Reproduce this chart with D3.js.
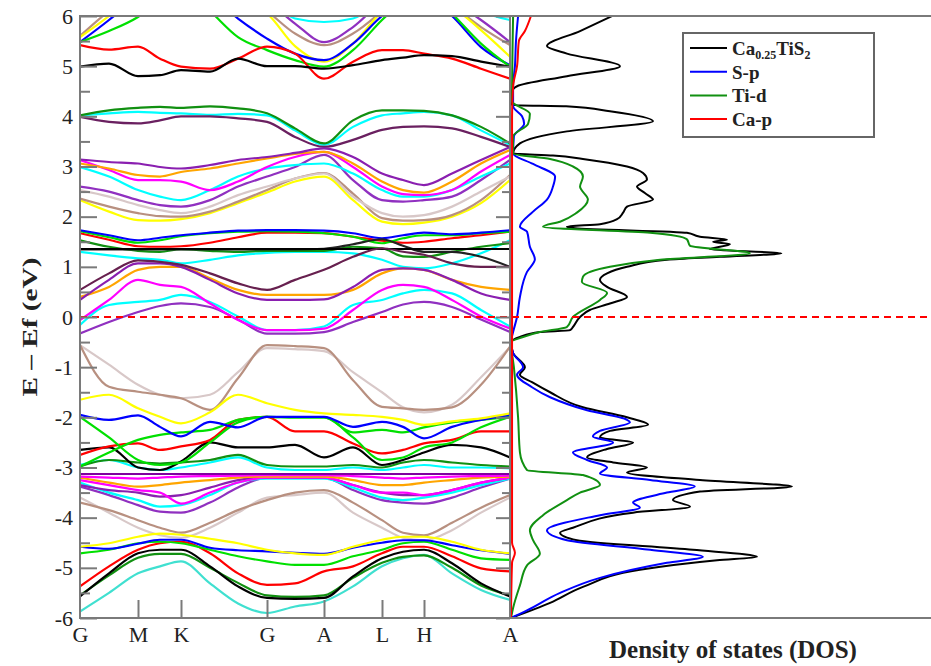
<!DOCTYPE html>
<html>
<head>
<meta charset="utf-8">
<script src="https://d3js.org/d3.v7.min.js"></script>
<style>
  body { margin: 0; background: #fff; }
  svg text { font-family: "Liberation Serif", "DejaVu Serif", serif !important; fill: #222; }
</style>
</head>
<body>
<script>
// k path (path units), high symmetry points
var kPath = [0, 0.29, 0.58, 0.80, 1.01, 1.30, 1.58, 1.87, 2.15, 2.44, 2.73, 3.02, 3.23, 3.44, 3.72, 4.01, 4.30];
var symPos = [0, 0.58, 1.01, 1.87, 2.44, 3.02, 3.44, 4.30];
var symLabels = ["G", "M", "K", "G", "A", "L", "H", "A"];
var yTicks = [6, 5, 4, 3, 2, 1, 0, -1, -2, -3, -4, -5, -6];
var yMinor = [5.5, 4.5, 3.5, 2.5, 1.5, 0.5, -0.5, -1.5, -2.5, -3.5, -4.5, -5.5];

// band energies (eV) at kPath points, with their colours
var bandColors = [
  // upper conduction
  "#b89080", "#00ffff", "#9030c0", "#ffff00", "#0000ff", "#00e000", "#ff0000", "#000000",
  // ~4 eV
  "#00ffff", "#6a2060", "#119011",
  // 2-3.4 eV
  "#ffff00", "#b89080", "#d8c8c8", "#9030c0", "#00ffff", "#ff00ff", "#ffa500", "#8a1fb0",
  // 1.2-1.8 eV
  "#00ffff", "#119011", "#ff0000", "#00e000", "#0000ff", "#222222", "#000000",
  // 0-1.4 eV
  "#9030c0", "#00ffff", "#ff00ff", "#ffa500", "#8a1fb0", "#67204f",
  // valence -0.5 .. -3
  "#d8c8c8", "#b89080", "#00ffff", "#119011", "#000000", "#ff0000", "#00e000", "#00e000", "#0000ff", "#ffff00",
  // -3.1 .. -4.5
  "#d8c8c8", "#b89080", "#9030c0", "#00ffff", "#8a1fb0", "#ff00ff", "#ffa500", "#ff00ff", "#8000a0",
  // -4.3 .. -6
  "#40e0d0", "#119011", "#000000", "#ff0000", "#00e000", "#0000ff", "#ffff00"
];
var bandValues = [
  [5.6, 6.1, 6.5, 6.8, 6.8, 6.8, 6.5, 6.1, 5.65, 5.42, 5.65, 6.1, 6.5, 6.5, 6.2, 5.78, 5.42],
  [6.5, 6.8, 6.8, 6.8, 6.8, 6.8, 6.8, 6.4, 5.95, 5.88, 5.95, 6.4, 6.8, 6.8, 6.5, 6.1, 5.92],
  [6.3, 6.6, 6.8, 6.8, 6.8, 6.8, 6.6, 6.3, 5.85, 5.48, 5.78, 6.3, 6.6, 6.6, 6.3, 5.92, 5.48],
  [5.58, 6.0, 6.5, 6.8, 6.8, 6.6, 6.3, 6.05, 5.4, 5.09, 5.45, 6.1, 6.5, 6.6, 6.2, 5.72, 5.19],
  [5.48, 5.92, 6.4, 6.8, 6.8, 6.4, 5.95, 5.55, 5.25, 5.12, 5.45, 6.0, 6.3, 6.4, 6.0, 5.38, 5.02],
  [5.48, 5.7, 5.98, 6.3, 6.6, 6.1, 5.58, 5.32, 5.12, 4.99, 5.32, 5.92, 6.3, 6.6, 6.05, 5.45, 4.99],
  [5.42, 5.33, 5.39, 5.15, 4.99, 4.95, 5.15, 5.39, 5.25, 4.75, 5.09, 5.32, 5.32, 5.25, 5.15, 4.95, 4.75],
  [4.99, 5.05, 4.8, 4.82, 4.92, 4.89, 5.15, 5.0, 5.0, 4.95, 5.02, 5.12, 5.17, 5.22, 5.2, 5.09, 4.99],

  [4.02, 4.06, 4.09, 4.07, 4.06, 4.03, 4.05, 4.02, 3.72, 3.43, 3.79, 4.02, 4.06, 4.09, 4.02, 3.72, 3.43],
  [3.99, 3.89, 3.86, 3.92, 4.0, 4.0, 3.96, 3.89, 3.59, 3.39, 3.53, 3.73, 3.79, 3.8, 3.76, 3.59, 3.39],
  [4.02, 4.12, 4.17, 4.19, 4.17, 4.2, 4.16, 4.06, 3.76, 3.46, 3.92, 4.12, 4.12, 4.11, 4.02, 3.79, 3.46],

  [2.33, 2.1, 1.93, 1.92, 1.95, 2.07, 2.27, 2.48, 2.7, 2.8, 2.33, 1.9, 1.85, 1.88, 2.0, 2.27, 2.73],
  [2.36, 2.2, 2.07, 2.01, 2.0, 2.1, 2.3, 2.53, 2.76, 2.87, 2.46, 1.97, 1.92, 1.93, 2.03, 2.33, 2.83],
  [2.53, 2.4, 2.23, 2.13, 2.07, 2.2, 2.43, 2.6, 2.76, 2.86, 2.4, 2.07, 2.0, 2.03, 2.2, 2.5, 2.8],
  [2.6, 2.5, 2.33, 2.23, 2.2, 2.33, 2.6, 2.8, 2.99, 3.23, 2.73, 2.33, 2.3, 2.33, 2.4, 2.73, 3.13],
  [2.99, 2.8, 2.53, 2.4, 2.33, 2.53, 2.8, 2.96, 3.03, 3.06, 2.86, 2.53, 2.4, 2.4, 2.53, 2.8, 3.06],
  [3.13, 2.93, 2.73, 2.73, 2.7, 2.53, 2.7, 2.99, 3.19, 3.29, 2.99, 2.6, 2.45, 2.43, 2.53, 2.9, 3.23],
  [3.06, 2.96, 2.83, 2.8, 2.89, 2.96, 3.06, 3.16, 3.25, 3.29, 3.06, 2.7, 2.53, 2.48, 2.7, 3.06, 3.33],
  [3.14, 3.09, 3.06, 2.99, 2.96, 3.03, 3.13, 3.19, 3.27, 3.36, 3.19, 2.86, 2.73, 2.63, 2.86, 3.13, 3.39],

  [1.3, 1.23, 1.17, 1.14, 1.07, 1.14, 1.23, 1.28, 1.3, 1.3, 1.27, 1.14, 1.0, 0.97, 1.07, 1.27, 1.53],
  [1.53, 1.4, 1.32, 1.3, 1.35, 1.32, 1.3, 1.32, 1.32, 1.32, 1.4, 1.37, 1.21, 1.2, 1.3, 1.4, 1.47],
  [1.67, 1.54, 1.41, 1.4, 1.41, 1.48, 1.59, 1.68, 1.68, 1.67, 1.6, 1.52, 1.48, 1.5, 1.57, 1.63, 1.7],
  [1.71, 1.59, 1.48, 1.53, 1.61, 1.67, 1.7, 1.71, 1.7, 1.67, 1.6, 1.47, 1.57, 1.63, 1.63, 1.67, 1.7],
  [1.73, 1.63, 1.53, 1.58, 1.63, 1.68, 1.72, 1.73, 1.73, 1.72, 1.67, 1.57, 1.63, 1.68, 1.65, 1.68, 1.73],
  [1.35, 1.35, 1.35, 1.35, 1.35, 1.35, 1.35, 1.35, 1.35, 1.36, 1.45, 1.55, 1.42, 1.3, 1.3, 1.2, 1.0],
  [1.355, 1.355, 1.355, 1.355, 1.355, 1.355, 1.355, 1.355, 1.355, 1.355, 1.355, 1.355, 1.355, 1.355, 1.355, 1.355, 1.355],

  [-0.33, -0.1, 0.1, 0.22, 0.27, 0.2, -0.05, -0.33, -0.33, -0.3, -0.1, 0.1, 0.25, 0.3, 0.2, -0.05, -0.3],
  [-0.16, 0.24, 0.3, 0.34, 0.44, 0.3, 0.01, -0.26, -0.26, -0.19, 0.24, 0.34, 0.47, 0.54, 0.47, 0.14, -0.19],
  [-0.06, 0.34, 0.74, 0.64, 0.6, 0.27, -0.06, -0.26, -0.26, -0.23, 0.14, 0.54, 0.64, 0.6, 0.34, 0.01, -0.23],
  [0.4, 0.6, 0.94, 1.0, 1.0, 0.77, 0.54, 0.44, 0.44, 0.44, 0.54, 0.87, 0.97, 0.94, 0.74, 0.6, 0.54],
  [0.34, 0.74, 1.07, 1.07, 1.0, 0.74, 0.47, 0.34, 0.34, 0.35, 0.6, 0.94, 0.97, 0.94, 0.74, 0.47, 0.34],
  [0.54, 0.87, 1.13, 1.1, 1.04, 0.87, 0.67, 0.54, 0.74, 0.94, 1.2, 1.37, 1.3, 1.24, 1.07, 1.0, 1.0],

  [-0.56, -0.95, -1.35, -1.55, -1.62, -1.55, -1.1, -0.62, -0.64, -0.68, -1.1, -1.5, -1.8, -1.9, -1.75, -1.2, -0.6],
  [-0.56, -1.39, -1.49, -1.55, -1.62, -1.85, -1.22, -0.56, -0.58, -0.62, -1.26, -1.79, -1.82, -1.85, -1.8, -1.35, -0.59],
  [-2.95, -2.85, -3.0, -3.05, -3.0, -2.9, -2.8, -3.0, -3.05, -3.05, -3.0, -3.05, -3.0, -2.95, -3.0, -3.0, -3.02],
  [-2.98, -2.85, -2.9, -2.92, -2.9, -2.85, -2.75, -2.95, -2.98, -2.98, -2.95, -3.0, -2.9, -2.85, -2.9, -2.95, -2.98],
  [-2.65, -2.6, -3.0, -3.05, -2.88, -2.5, -2.6, -2.6, -2.55, -2.8, -2.6, -2.95, -2.85, -2.7, -2.55, -2.6, -2.8],
  [-2.75, -2.58, -2.52, -2.65, -2.58, -2.45, -2.05, -1.99, -2.28, -2.28, -2.52, -2.72, -2.65, -2.52, -2.45, -2.28, -2.28],
  [-2.98, -2.7, -2.45, -2.35, -2.3, -2.25, -2.05, -1.99, -2.0, -2.0, -2.3, -2.25, -2.3, -2.2, -2.1, -2.05, -1.99],
  [-1.99, -2.4, -2.85, -2.95, -2.9, -2.5, -2.1, -1.99, -2.0, -2.0, -2.4, -2.85, -2.8, -2.6, -2.5, -2.2, -1.99],
  [-1.95, -2.05, -1.96, -2.19, -2.38, -2.09, -2.2, -1.99, -1.99, -1.99, -2.19, -2.09, -2.19, -2.42, -2.19, -2.05, -1.95],
  [-1.65, -1.55, -1.82, -1.99, -2.12, -1.9, -1.55, -1.72, -1.85, -1.92, -1.95, -1.99, -2.05, -2.15, -2.08, -2.02, -1.92],

  [-3.6, -3.9, -4.2, -4.35, -4.4, -4.2, -3.9, -3.6, -3.55, -3.5, -3.9, -4.2, -4.4, -4.45, -4.25, -3.9, -3.6],
  [-3.7, -3.85, -4.05, -4.2, -4.3, -4.1, -3.85, -3.65, -3.5, -3.45, -3.7, -4.05, -4.3, -4.35, -4.1, -3.8, -3.55],
  [-3.38, -3.55, -3.75, -3.88, -3.9, -3.7, -3.4, -3.2, -3.2, -3.2, -3.45, -3.65, -3.7, -3.72, -3.6, -3.4, -3.22],
  [-3.3, -3.5, -3.65, -3.78, -3.75, -3.55, -3.3, -3.22, -3.22, -3.22, -3.4, -3.6, -3.65, -3.6, -3.5, -3.35, -3.22],
  [-3.35, -3.45, -3.5, -3.58, -3.55, -3.4, -3.25, -3.2, -3.2, -3.2, -3.35, -3.5, -3.55, -3.55, -3.45, -3.3, -3.2],
  [-3.25, -3.35, -3.45, -3.5, -3.72, -3.5, -3.3, -3.2, -3.2, -3.2, -3.35, -3.5, -3.5, -3.55, -3.45, -3.3, -3.2],
  [-3.2, -3.3, -3.38, -3.35, -3.3, -3.25, -3.2, -3.18, -3.18, -3.18, -3.25, -3.35, -3.35, -3.3, -3.25, -3.2, -3.18],
  [-3.18, -3.2, -3.22, -3.2, -3.18, -3.17, -3.16, -3.15, -3.15, -3.15, -3.17, -3.2, -3.22, -3.2, -3.18, -3.17, -3.16],
  [-3.13, -3.13, -3.13, -3.13, -3.13, -3.13, -3.13, -3.13, -3.13, -3.13, -3.13, -3.13, -3.13, -3.13, -3.13, -3.13, -3.13],

  [-5.87, -5.5, -5.11, -4.97, -4.87, -5.31, -5.71, -5.9, -5.77, -5.67, -5.37, -4.97, -4.81, -4.74, -5.11, -5.44, -5.64],
  [-5.55, -5.15, -4.8, -4.72, -4.72, -5.0, -5.3, -5.55, -5.58, -5.55, -5.2, -4.9, -4.78, -4.75, -5.0, -5.35, -5.55],
  [-5.57, -5.11, -4.71, -4.64, -4.64, -4.97, -5.37, -5.6, -5.62, -5.6, -5.17, -4.81, -4.68, -4.64, -4.91, -5.31, -5.57],
  [-5.37, -4.97, -4.64, -4.51, -4.48, -4.71, -5.11, -5.34, -5.31, -5.07, -4.97, -4.71, -4.58, -4.58, -4.77, -5.01, -5.07],
  [-4.71, -4.64, -4.51, -4.48, -4.51, -4.64, -4.77, -4.87, -4.94, -4.94, -4.77, -4.64, -4.51, -4.48, -4.64, -4.81, -4.84],
  [-4.58, -4.62, -4.52, -4.44, -4.44, -4.6, -4.65, -4.67, -4.7, -4.72, -4.6, -4.5, -4.45, -4.45, -4.55, -4.65, -4.72],
  [-4.58, -4.51, -4.38, -4.32, -4.34, -4.42, -4.51, -4.64, -4.71, -4.74, -4.58, -4.44, -4.38, -4.38, -4.48, -4.64, -4.71]
];

// density of states: [energy (eV), states]
var dosTotal = [[6.0,3.85],[5.7,2.63],[5.4,1.37],[5.25,2.13],[5.0,4.15],[4.8,2.13],[4.6,0.23],[4.5,0.04],[4.22,0.04],
  [4.2,2.1],[4.1,3.77],[3.9,5.41],[3.7,2.13],[3.46,0.34],[3.26,0.08],[3.22,1.6],[3.15,2.74],[3.0,4.42],[2.87,5.03],
  [2.74,5.18],[2.6,4.8],[2.47,5.1],[2.34,5.41],[2.2,4.42],[2.08,4.27],[1.95,4.04],[1.85,3.39],[1.8,2.13],[1.77,2.44],
  [1.68,6.7],[1.6,7.2],[1.54,8.23],[1.5,7.7],[1.45,8.34],[1.35,7.58],[1.27,10.3],[1.2,7.96],[1.14,5.94],[1.0,4.42],
  [0.87,3.66],[0.74,3.39],[0.6,3.66],[0.4,4.42],[0.27,3.77],[0.14,3.0],[0.0,2.63],[-0.2,2.36],[-0.26,2.25],[-0.3,1.1],
  [-0.4,0.34],[-0.5,0.0],[-0.72,0.08],[-1.0,0.53],[-1.15,0.34],[-1.3,0.8],[-1.5,1.49],[-1.8,2.74],[-2.0,4.42],
  [-2.15,5.22],[-2.27,3.77],[-2.4,3.39],[-2.5,4.65],[-2.63,3.66],[-2.8,2.9],[-2.9,3.89],[-3.0,5.18],[-3.1,4.42],
  [-3.25,7.2],[-3.38,10.7],[-3.48,7.2],[-3.65,6.17],[-3.78,6.82],[-3.9,4.65],[-4.2,2.36],[-4.3,1.87],[-4.45,2.51],
  [-4.64,6.93],[-4.78,9.37],[-4.85,7.85],[-5.04,4.91],[-5.38,2.74],[-5.7,1.49],[-6.0,0.0]];
var dosSp = [[6.0,0.27],[5.5,0.19],[5.0,0.15],[4.6,0.08],[4.2,0.08],[4.0,0.42],[3.85,0.5],[3.6,0.11],[3.26,0.08],
  [3.05,0.84],[2.8,1.68],[2.6,1.6],[2.34,1.37],[2.1,0.84],[1.8,0.34],[1.7,0.61],[1.4,0.72],[1.15,0.91],[0.9,0.61],
  [0.4,0.34],[0.0,0.23],[-0.3,0.08],[-0.5,0.0],[-0.72,0.08],[-1.0,0.46],[-1.15,0.23],[-1.4,0.8],[-1.6,1.49],
  [-1.86,2.9],[-2.05,4.42],[-2.1,4.53],[-2.27,3.39],[-2.38,3.12],[-2.5,3.89],[-2.7,2.36],[-2.85,2.9],[-3.0,3.66],
  [-3.12,3.39],[-3.25,5.3],[-3.38,7.0],[-3.5,5.94],[-3.7,4.65],[-3.8,4.91],[-3.95,3.39],[-4.25,1.37],[-4.45,2.13],
  [-4.64,5.3],[-4.78,7.31],[-4.9,5.94],[-5.2,3.39],[-5.5,1.87],[-5.85,0.61],[-6.0,0.0]];
var dosTid = [[6.0,0.08],[4.3,0.04],[4.05,0.72],[3.85,0.65],[3.6,0.08],[3.26,0.08],[3.15,1.49],[3.0,2.36],[2.8,2.74],
  [2.6,2.63],[2.34,2.93],[2.08,2.51],[1.9,1.87],[1.8,1.22],[1.68,5.3],[1.55,6.7],[1.42,6.82],[1.27,9.1],[1.14,5.68],
  [1.0,3.77],[0.8,2.74],[0.7,2.7],[0.48,3.66],[0.34,3.39],[0.0,2.36],[-0.2,2.13],[-0.3,1.1],[-0.4,0.46],[-0.5,0.0],
  [-1.0,0.11],[-2.0,0.27],[-2.7,0.34],[-3.05,0.61],[-3.15,2.74],[-3.35,3.39],[-3.5,2.63],[-3.65,2.13],[-3.95,1.22],
  [-4.25,0.72],[-4.45,0.84],[-4.72,1.1],[-4.95,0.61],[-5.35,0.34],[-5.8,0.08],[-6.0,0.0]];
var dosCap = [[6.0,0.76],[5.7,0.53],[5.5,0.3],[5.0,0.23],[4.6,0.08],[4.0,0.04],[-4.5,0.04],[-4.7,0.15],[-4.9,0.04],[-6.0,0.0]];

var legendNames = ["Ca0.25TiS2", "S-p", "Ti-d", "Ca-p"];
var legendColors = ["#000000", "#0000ff", "#119011", "#ff0000"];

var width = 931, height = 666;
var svg = d3.select("body").append("svg")
    .attr("width", width)
    .attr("height", height);

var x = d3.scaleLinear().domain([0, 4.30]).range([80, 510]);
var y = d3.scaleLinear().domain([-6, 6]).range([618, 16]);
var xd = d3.scaleLinear().domain([0, 16]).range([511, 931]);

var defs = svg.append("defs");
defs.append("clipPath").attr("id", "bandClip")
  .append("rect").attr("x", 80).attr("y", 16).attr("width", 430).attr("height", 602);
defs.append("clipPath").attr("id", "dosClip")
  .append("rect").attr("x", 510).attr("y", 14).attr("width", 421).attr("height", 605);

// bands
var bandLine = d3.line()
    .x(function(d, i) { return x(kPath[i]); })
    .y(function(d) { return y(d); })
    .curve(d3.curveMonotoneX);

svg.append("g").attr("clip-path", "url(#bandClip)")
  .selectAll("path")
  .data(bandValues)
  .enter().append("path")
    .attr("d", bandLine)
    .attr("fill", "none")
    .attr("stroke", function(d, i) { return bandColors[i]; })
    .attr("stroke-width", 2.2);

// DOS curves
var dosLine = d3.line()
    .x(function(d) { return xd(d[1]); })
    .y(function(d) { return y(d[0]); })
    .curve(d3.curveMonotoneY);

var dosG = svg.append("g").attr("clip-path", "url(#dosClip)");
[[dosTotal, "#000000"], [dosSp, "#0000ff"], [dosTid, "#119011"], [dosCap, "#ff0000"]].forEach(function(c) {
  dosG.append("path")
    .attr("d", dosLine(c[0].slice().reverse()))
    .attr("fill", "none")
    .attr("stroke", c[1])
    .attr("stroke-width", 2);
});

// Fermi level
svg.append("line")
  .attr("x1", 80).attr("x2", 931)
  .attr("y1", y(0)).attr("y2", y(0))
  .attr("stroke", "#ff0000")
  .attr("stroke-width", 2)
  .attr("stroke-dasharray", "7,5");

// frame
var frameColor = "#7a7a7a";
svg.append("rect")
  .attr("x", 80).attr("y", 16).attr("width", 430).attr("height", 602)
  .attr("fill", "none").attr("stroke", frameColor).attr("stroke-width", 2);
svg.append("line").attr("x1", 510).attr("x2", 931).attr("y1", 16).attr("y2", 16)
  .attr("stroke", frameColor).attr("stroke-width", 2);
svg.append("line").attr("x1", 510).attr("x2", 931).attr("y1", 618).attr("y2", 618)
  .attr("stroke", frameColor).attr("stroke-width", 2);

function styleTicks(g) {
  g.select(".domain").remove();
  g.selectAll(".tick line").attr("stroke", frameColor).attr("stroke-width", 2);
}

// y ticks (inside both sides)
svg.append("g").attr("transform", "translate(80,0)")
  .call(d3.axisRight(y).tickValues(yTicks).tickSize(17).tickFormat(""))
  .call(styleTicks);
svg.append("g").attr("transform", "translate(80,0)")
  .call(d3.axisRight(y).tickValues(yMinor).tickSize(10).tickFormat(""))
  .call(styleTicks);
svg.append("g").attr("transform", "translate(510,0)")
  .call(d3.axisLeft(y).tickValues(yTicks).tickSize(14).tickFormat(""))
  .call(styleTicks);
svg.append("g").attr("transform", "translate(510,0)")
  .call(d3.axisLeft(y).tickValues(yMinor).tickSize(8).tickFormat(""))
  .call(styleTicks);

// y labels (plain hyphen minus, as in the original)
var yLab = svg.append("g").attr("transform", "translate(80,0)")
  .call(d3.axisLeft(y).tickValues(yTicks).tickSize(0).tickPadding(7)
    .tickFormat(function(d) { return String(d); }));
yLab.select(".domain").remove();
yLab.attr("font-family", null);
yLab.selectAll("text").attr("font-size", 22);

// x ticks at high symmetry points
svg.append("g").attr("transform", "translate(0,618)")
  .call(d3.axisTop(x).tickValues(symPos.slice(1, -1)).tickSize(18).tickFormat(""))
  .call(styleTicks);

var xLab = svg.append("g").attr("transform", "translate(0,618)")
  .call(d3.axisBottom(x).tickValues(symPos).tickSize(0).tickPadding(8)
    .tickFormat(function(d, i) { return symLabels[i]; }));
xLab.select(".domain").remove();
xLab.attr("font-family", null);
xLab.selectAll("text").attr("font-size", 22);

// axis titles
svg.append("text")
  .attr("transform", "translate(37,327) rotate(-90)")
  .attr("text-anchor", "middle")
  .attr("font-size", 21)
  .attr("font-weight", "bold")
  .attr("textLength", 139)
  .attr("lengthAdjust", "spacingAndGlyphs")
  .text("E \u2013 Ef (eV)");

svg.append("text")
  .attr("x", 733).attr("y", 658)
  .attr("text-anchor", "middle")
  .attr("font-size", 25)
  .attr("font-weight", "bold")
  .text("Density of states (DOS)");

// legend
var lg = svg.append("g");
lg.append("rect")
  .attr("x", 683).attr("y", 33).attr("width", 191).attr("height", 104)
  .attr("fill", "#fff").attr("stroke", "#666").attr("stroke-width", 2);
legendNames.forEach(function(name, i) {
  var ly = 48 + i * 23.7;
  lg.append("line")
    .attr("x1", 690).attr("x2", 727)
    .attr("y1", ly).attr("y2", ly)
    .attr("stroke", legendColors[i]).attr("stroke-width", 2);
  var t = lg.append("text")
    .attr("x", 732).attr("y", ly + 7)
    .attr("font-size", 19)
    .attr("font-weight", "bold");
  if (i === 0) {
    t.append("tspan").text("Ca");
    t.append("tspan").attr("font-size", 12).attr("dy", 4).text("0.25");
    t.append("tspan").attr("dy", -4).text("TiS");
    t.append("tspan").attr("font-size", 12).attr("dy", 4).text("2");
  } else {
    t.text(name);
  }
});
</script>
</body>
</html>
